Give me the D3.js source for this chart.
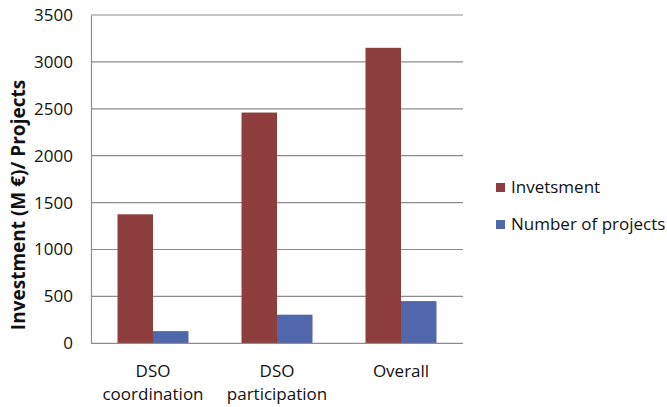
<!DOCTYPE html>
<html><head><meta charset="utf-8">
<script src="https://cdn.jsdelivr.net/npm/d3@7"></script>
<style>body{margin:0;background:#fff;} svg{display:block;font-family:"Open Sans", sans-serif;}</style>
</head><body>
<svg id="c" width="667" height="407"></svg>
<script>
const categories = [["DSO","coordination"],["DSO","participation"],["Overall"]];
const seriesNames = ["Invetsment","Number of projects"];
const investment = [1375, 2460, 3150];
const projects = [130, 305, 450];
const yTicks = [0,500,1000,1500,2000,2500,3000,3500];
const colors = ["#8E3E3C","#5067AC"];

(function(){
const svg = d3.select("#c");
const pL = 91, pR = 463, pT = 15, pB = 343.3;
const x = d3.scaleBand().domain(d3.range(categories.length)).range([pL,pR]).paddingInner(0).paddingOuter(0);
const xs = d3.scaleBand().domain([0,1]).range([0, 71]);
const y = d3.scaleLinear().domain([0,3500]).range([pB, pT]);

svg.append("g").selectAll("line").data(yTicks.filter(d=>d>0)).join("line")
  .attr("x1",pL).attr("x2",pR).attr("y1",d=>y(d)).attr("y2",d=>y(d))
  .attr("stroke","#8c8c8c").attr("stroke-width",1.2);

const yAxis = d3.axisLeft(y).tickValues(yTicks).tickSize(0).tickPadding(18).tickFormat(d3.format("d"));
const gy = svg.append("g").attr("transform",`translate(${pL},0)`).call(yAxis);
gy.select(".domain").attr("stroke","#8c8c8c").attr("stroke-width",1.2);
gy.selectAll("text").attr("font-size",17).attr("fill","#111").attr("font-family","Open Sans");

const data = [investment, projects];
const groups = svg.append("g").selectAll("g").data(categories.map((c,i)=>i)).join("g")
  .attr("transform",i=>`translate(${x(i)+ (x.bandwidth()-71)/2},0)`);
groups.selectAll("rect").data(i=>data.map((s,k)=>({k,v:s[i]}))).join("rect")
  .attr("x",d=>xs(d.k)).attr("width",xs.bandwidth())
  .attr("y",d=>y(d.v)).attr("height",d=>pB-y(d.v))
  .attr("fill",d=>colors[d.k]);

svg.append("line").attr("x1",pL).attr("x2",pR).attr("y1",pB).attr("y2",pB)
  .attr("stroke","#8c8c8c").attr("stroke-width",1.2);

const xl = svg.append("g").selectAll("text").data(categories).join("text")
  .attr("x",(d,i)=>x(i)+x.bandwidth()/2).attr("y",377)
  .attr("text-anchor","middle").attr("font-size",17).attr("fill","#111");
xl.selectAll("tspan").data(d=>d).join("tspan")
  .attr("x",function(){return this.parentNode.getAttribute("x");})
  .attr("dy",(d,j)=>j===0?0:22.5).text(d=>d);

svg.append("text").attr("transform","translate(25,205) rotate(-90)")
  .attr("text-anchor","middle").attr("font-size",19).attr("font-weight","bold").attr("fill","#111")
  .text("Investment (M €)/ Projects");

const lg = svg.append("g").selectAll("g").data(seriesNames).join("g")
  .attr("transform",(d,i)=>`translate(496,${193+i*37})`);
lg.append("rect").attr("x",0).attr("y",-10).attr("width",9).attr("height",9).attr("fill",(d,i)=>colors[i]);
lg.append("text").attr("x",15).attr("y",0).attr("font-size",17).attr("fill","#111").text(d=>d);
})();
</script>
</body></html>
